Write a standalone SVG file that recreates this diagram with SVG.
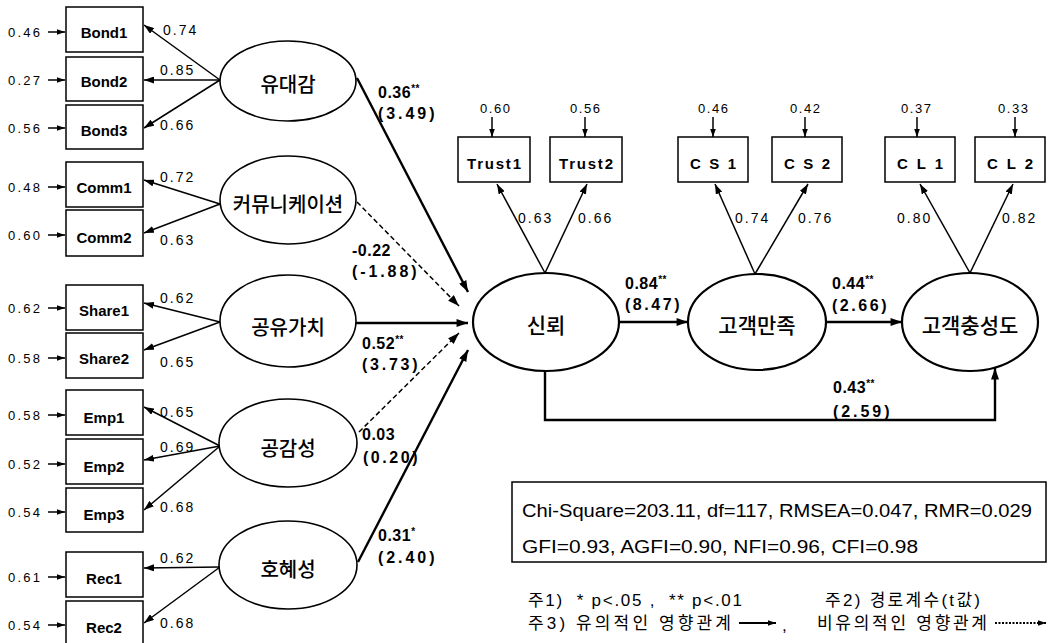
<svg xmlns="http://www.w3.org/2000/svg" width="1048" height="643" viewBox="0 0 1048 643">
<style>
.box{fill:#fff;stroke:#000;stroke-width:1.5}
.ell{fill:#fff;stroke:#000;stroke-width:1.6}
.ell2{fill:#fff;stroke:#000;stroke-width:2.2}
.ln{stroke:#000;stroke-width:1.5;fill:none}
.sl{stroke:#000;stroke-width:2.4;fill:none}
.ds{stroke:#000;stroke-width:1.5;fill:none;stroke-dasharray:5 3}
text{font-family:"Liberation Sans",Arial,sans-serif;fill:#000;dominant-baseline:central}
.bx{font-size:15px;font-weight:bold;text-anchor:middle}
.er{font-size:13px}
.ld{font-size:14px;letter-spacing:2px}
.cf{font-size:16px;font-weight:bold;letter-spacing:0.5px}
.kr{font-family:"Noto Sans CJK KR",sans-serif;font-size:20px;text-anchor:middle;font-weight:500}
.st{font-size:18px}
.nt{font-family:"Liberation Sans","Noto Sans CJK KR",sans-serif;font-size:17px}
</style>
<defs>
<marker id="ah" viewBox="0 0 10 7" refX="10" refY="3.5" markerWidth="10" markerHeight="7" markerUnits="userSpaceOnUse" orient="auto"><path d="M0,0 L10,3.5 L0,7 z" fill="#000"/></marker>
<marker id="ahs" viewBox="0 0 10 7" refX="10" refY="3.5" markerWidth="8" markerHeight="6" markerUnits="userSpaceOnUse" orient="auto"><path d="M0,0 L10,3.5 L0,7 z" fill="#000"/></marker>
<marker id="ahb" viewBox="0 0 10 7" refX="10" refY="3.5" markerWidth="12" markerHeight="8" markerUnits="userSpaceOnUse" orient="auto"><path d="M0,0 L10,3.5 L0,7 z" fill="#000"/></marker>
</defs>
<rect width="1048" height="643" fill="#fff"/>

<g id="connectors">
<g class="ln" marker-end="url(#ahs)">
<line x1="48" y1="32" x2="65" y2="32"/>
<line x1="48" y1="80" x2="65" y2="80"/>
<line x1="48" y1="128" x2="65" y2="128"/>
<line x1="48" y1="187" x2="65" y2="187"/>
<line x1="48" y1="235" x2="65" y2="235"/>
<line x1="48" y1="308" x2="65" y2="308"/>
<line x1="48" y1="358" x2="65" y2="358"/>
<line x1="48" y1="415" x2="65" y2="415"/>
<line x1="48" y1="464" x2="65" y2="464"/>
<line x1="48" y1="512" x2="65" y2="512"/>
<line x1="48" y1="577" x2="65" y2="577"/>
<line x1="48" y1="625" x2="65" y2="625"/>
<line x1="492" y1="117" x2="492" y2="137"/>
<line x1="585" y1="117" x2="585" y2="137"/>
<line x1="713" y1="117" x2="713" y2="137"/>
<line x1="805" y1="117" x2="805" y2="137"/>
<line x1="917" y1="117" x2="917" y2="137"/>
<line x1="1015" y1="117" x2="1015" y2="137"/>
</g>
<g class="ln" marker-end="url(#ah)">
<line x1="220" y1="80" x2="144" y2="25"/>
<line x1="220" y1="80" x2="144" y2="80"/>
<line x1="220" y1="80" x2="144" y2="128"/>
<line x1="220" y1="204" x2="144" y2="180"/>
<line x1="220" y1="204" x2="144" y2="233"/>
<line x1="220" y1="322" x2="144" y2="303"/>
<line x1="220" y1="322" x2="144" y2="350"/>
<line x1="220" y1="446" x2="144" y2="407"/>
<line x1="220" y1="446" x2="144" y2="460"/>
<line x1="220" y1="446" x2="144" y2="510"/>
<line x1="220" y1="567" x2="144" y2="568"/>
<line x1="220" y1="567" x2="144" y2="623"/>
<line x1="545" y1="273" x2="497" y2="184"/>
<line x1="545" y1="273" x2="587" y2="184"/>
<line x1="755" y1="274" x2="715" y2="184"/>
<line x1="755" y1="274" x2="808" y2="184"/>
<line x1="970" y1="273" x2="920" y2="184"/>
<line x1="970" y1="273" x2="1013" y2="184"/>
</g>
<g marker-end="url(#ahb)">
<line class="sl" x1="357" y1="78" x2="468" y2="292"/>
<line class="ds" x1="357" y1="202" x2="459" y2="306"/>
<line class="sl" x1="356" y1="323" x2="468" y2="323"/>
<line class="ds" x1="359" y1="432" x2="459" y2="333"/>
<line class="sl" x1="358" y1="562" x2="468" y2="350"/>
<line class="sl" x1="620" y1="322" x2="688" y2="322"/>
<line class="sl" x1="827" y1="322" x2="902" y2="322"/>
<path class="sl" d="M545,370 L545,420 L995,420 L995,368"/>
</g>
</g>

<g id="Bond1"><rect class="box" x="66" y="7" width="77" height="45"/><text class="bx" x="104" y="32">Bond1</text></g>
<g id="Bond2"><rect class="box" x="66" y="57" width="77" height="44"/><text class="bx" x="104" y="81">Bond2</text></g>
<g id="Bond3"><rect class="box" x="66" y="105" width="77" height="44"/><text class="bx" x="104" y="130">Bond3</text></g>
<g id="Comm1"><rect class="box" x="66" y="162" width="77" height="45"/><text class="bx" x="104" y="187">Comm1</text></g>
<g id="Comm2"><rect class="box" x="66" y="210" width="77" height="46"/><text class="bx" x="104" y="237">Comm2</text></g>
<g id="Share1"><rect class="box" x="66" y="285" width="77" height="45"/><text class="bx" x="104" y="310">Share1</text></g>
<g id="Share2"><rect class="box" x="66" y="333" width="77" height="45"/><text class="bx" x="104" y="358">Share2</text></g>
<g id="Emp1"><rect class="box" x="66" y="390" width="77" height="45"/><text class="bx" x="104" y="417">Emp1</text></g>
<g id="Emp2"><rect class="box" x="66" y="439" width="77" height="45"/><text class="bx" x="104" y="466">Emp2</text></g>
<g id="Emp3"><rect class="box" x="66" y="488" width="77" height="44"/><text class="bx" x="104" y="514">Emp3</text></g>
<g id="Rec1"><rect class="box" x="66" y="552" width="77" height="45"/><text class="bx" x="104" y="578">Rec1</text></g>
<g id="Rec2"><rect class="box" x="66" y="601" width="77" height="45"/><text class="bx" x="104" y="627">Rec2</text></g>

<g id="errors">
<text class="er" x="8" y="32" textLength="32">0.46</text>
<text class="er" x="8" y="80" textLength="32">0.27</text>
<text class="er" x="8" y="128" textLength="32">0.56</text>
<text class="er" x="8" y="187" textLength="32">0.48</text>
<text class="er" x="8" y="235" textLength="32">0.60</text>
<text class="er" x="8" y="308" textLength="32">0.62</text>
<text class="er" x="8" y="358" textLength="32">0.58</text>
<text class="er" x="8" y="415" textLength="32">0.58</text>
<text class="er" x="8" y="464" textLength="32">0.52</text>
<text class="er" x="8" y="512" textLength="32">0.54</text>
<text class="er" x="8" y="577" textLength="32">0.61</text>
<text class="er" x="8" y="625" textLength="32">0.54</text>
<text class="er" x="480" y="108" textLength="30">0.60</text>
<text class="er" x="570" y="108" textLength="30">0.56</text>
<text class="er" x="698" y="108" textLength="30">0.46</text>
<text class="er" x="790" y="108" textLength="30">0.42</text>
<text class="er" x="901" y="108" textLength="30">0.37</text>
<text class="er" x="998" y="108" textLength="30">0.33</text>
</g>

<g id="loadings">
<text class="ld" x="163" y="30">0.74</text>
<text class="ld" x="160" y="70">0.85</text>
<text class="ld" x="160" y="125">0.66</text>
<text class="ld" x="160" y="177">0.72</text>
<text class="ld" x="160" y="240">0.63</text>
<text class="ld" x="160" y="298">0.62</text>
<text class="ld" x="160" y="362">0.65</text>
<text class="ld" x="160" y="412">0.65</text>
<text class="ld" x="160" y="447">0.69</text>
<text class="ld" x="160" y="507">0.68</text>
<text class="ld" x="160" y="558">0.62</text>
<text class="ld" x="160" y="623">0.68</text>
<text class="ld" x="518" y="218">0.63</text>
<text class="ld" x="578" y="218">0.66</text>
<text class="ld" x="735" y="218">0.74</text>
<text class="ld" x="798" y="218">0.76</text>
<text class="ld" x="897" y="218">0.80</text>
<text class="ld" x="1002" y="218">0.82</text>
</g>

<g id="유대감"><ellipse class="ell" cx="288" cy="81" rx="68" ry="40"/><text class="kr" x="288" y="83">유대감</text></g>
<g id="커뮤니케이션"><ellipse class="ell" cx="288" cy="200" rx="68" ry="44"/><text class="kr" x="288" y="203">커뮤니케이션</text></g>
<g id="공유가치"><ellipse class="ell" cx="288" cy="321" rx="68" ry="46"/><text class="kr" x="288" y="326">공유가치</text></g>
<g id="공감성"><ellipse class="ell" cx="288" cy="443" rx="69" ry="44"/><text class="kr" x="288" y="447">공감성</text></g>
<g id="호혜성"><ellipse class="ell" cx="288" cy="565" rx="69" ry="44"/><text class="kr" x="288" y="568">호혜성</text></g>

<g id="신뢰"><ellipse class="ell2" cx="546" cy="322" rx="73" ry="49"/><text class="kr" x="546" y="324" style="font-size:21px">신뢰</text></g>
<g id="고객만족"><ellipse class="ell2" cx="757" cy="322" rx="69" ry="48"/><text class="kr" x="757" y="324" style="font-size:21px">고객만족</text></g>
<g id="고객충성도"><ellipse class="ell2" cx="970" cy="322" rx="68" ry="49"/><text class="kr" x="970" y="324" style="font-size:21px">고객충성도</text></g>

<g id="Trust1"><rect class="box" x="458" y="137" width="72" height="45"/><text class="bx" x="494" y="163" textLength="54">Trust1</text></g>
<g id="Trust2"><rect class="box" x="550" y="137" width="72" height="45"/><text class="bx" x="586" y="163" textLength="54">Trust2</text></g>
<g id="CS1"><rect class="box" x="678" y="137" width="70" height="45"/><text class="bx" x="713" y="163" textLength="46" xml:space="preserve">C S 1</text></g>
<g id="CS2"><rect class="box" x="772" y="137" width="70" height="45"/><text class="bx" x="807" y="163" textLength="46" xml:space="preserve">C S 2</text></g>
<g id="CL1"><rect class="box" x="885" y="137" width="70" height="45"/><text class="bx" x="920" y="163" textLength="46" xml:space="preserve">C L 1</text></g>
<g id="CL2"><rect class="box" x="975" y="137" width="70" height="45"/><text class="bx" x="1010" y="163" textLength="46" xml:space="preserve">C L 2</text></g>

<g id="coefficients">
<text class="cf" x="378" y="92">0.36<tspan font-size="10" dy="-4">**</tspan></text>
<text class="cf" x="378" y="113" textLength="57">(3.49)</text>
<text class="cf" x="352" y="250">-0.22</text>
<text class="cf" x="352" y="271" textLength="65">(-1.88)</text>
<text class="cf" x="362" y="343">0.52<tspan font-size="10" dy="-4">**</tspan></text>
<text class="cf" x="362" y="364" textLength="56">(3.73)</text>
<text class="cf" x="362" y="434">0.03</text>
<text class="cf" x="363" y="457" textLength="55">(0.20)</text>
<text class="cf" x="378" y="535">0.31<tspan font-size="10" dy="-4">*</tspan></text>
<text class="cf" x="378" y="557" textLength="57">(2.40)</text>
<text class="cf" x="625" y="283">0.84<tspan font-size="10" dy="-4">**</tspan></text>
<text class="cf" x="625" y="304" textLength="55">(8.47)</text>
<text class="cf" x="832" y="283">0.44<tspan font-size="10" dy="-4">**</tspan></text>
<text class="cf" x="832" y="305" textLength="55">(2.66)</text>
<text class="cf" x="833" y="387">0.43<tspan font-size="10" dy="-4">**</tspan></text>
<text class="cf" x="833" y="411" textLength="57">(2.59)</text>
</g>

<g id="fit">
<rect x="512" y="482" width="534" height="80" fill="#fff" stroke="#000" stroke-width="1.5"/>
<text class="st" x="522" y="511" textLength="510" lengthAdjust="spacingAndGlyphs">Chi-Square=203.11,  df=117, RMSEA=0.047, RMR=0.029</text>
<text class="st" x="522" y="547" textLength="396" lengthAdjust="spacingAndGlyphs">GFI=0.93,  AGFI=0.90,  NFI=0.96,  CFI=0.98</text>
</g>

<g id="notes">
<text class="nt" x="528" y="600" textLength="214" xml:space="preserve">주1)  * p&lt;.05 ,  ** p&lt;.01</text>
<text class="nt" x="825" y="600" textLength="155">주2) 경로계수(t값)</text>
<text class="nt" x="528" y="623" textLength="203">주3) 유의적인 영향관계</text>
<line class="sl" x1="739" y1="623" x2="776" y2="623" style="stroke-width:2" marker-end="url(#ahs)"/>
<text class="nt" x="782" y="625">,</text>
<text class="nt" x="817" y="623" textLength="170">비유의적인 영향관계</text>
<line x1="995" y1="623" x2="1046" y2="623" stroke="#000" stroke-width="2" stroke-dasharray="2 1.5" marker-end="url(#ahs)"/>
</g>
</svg>
